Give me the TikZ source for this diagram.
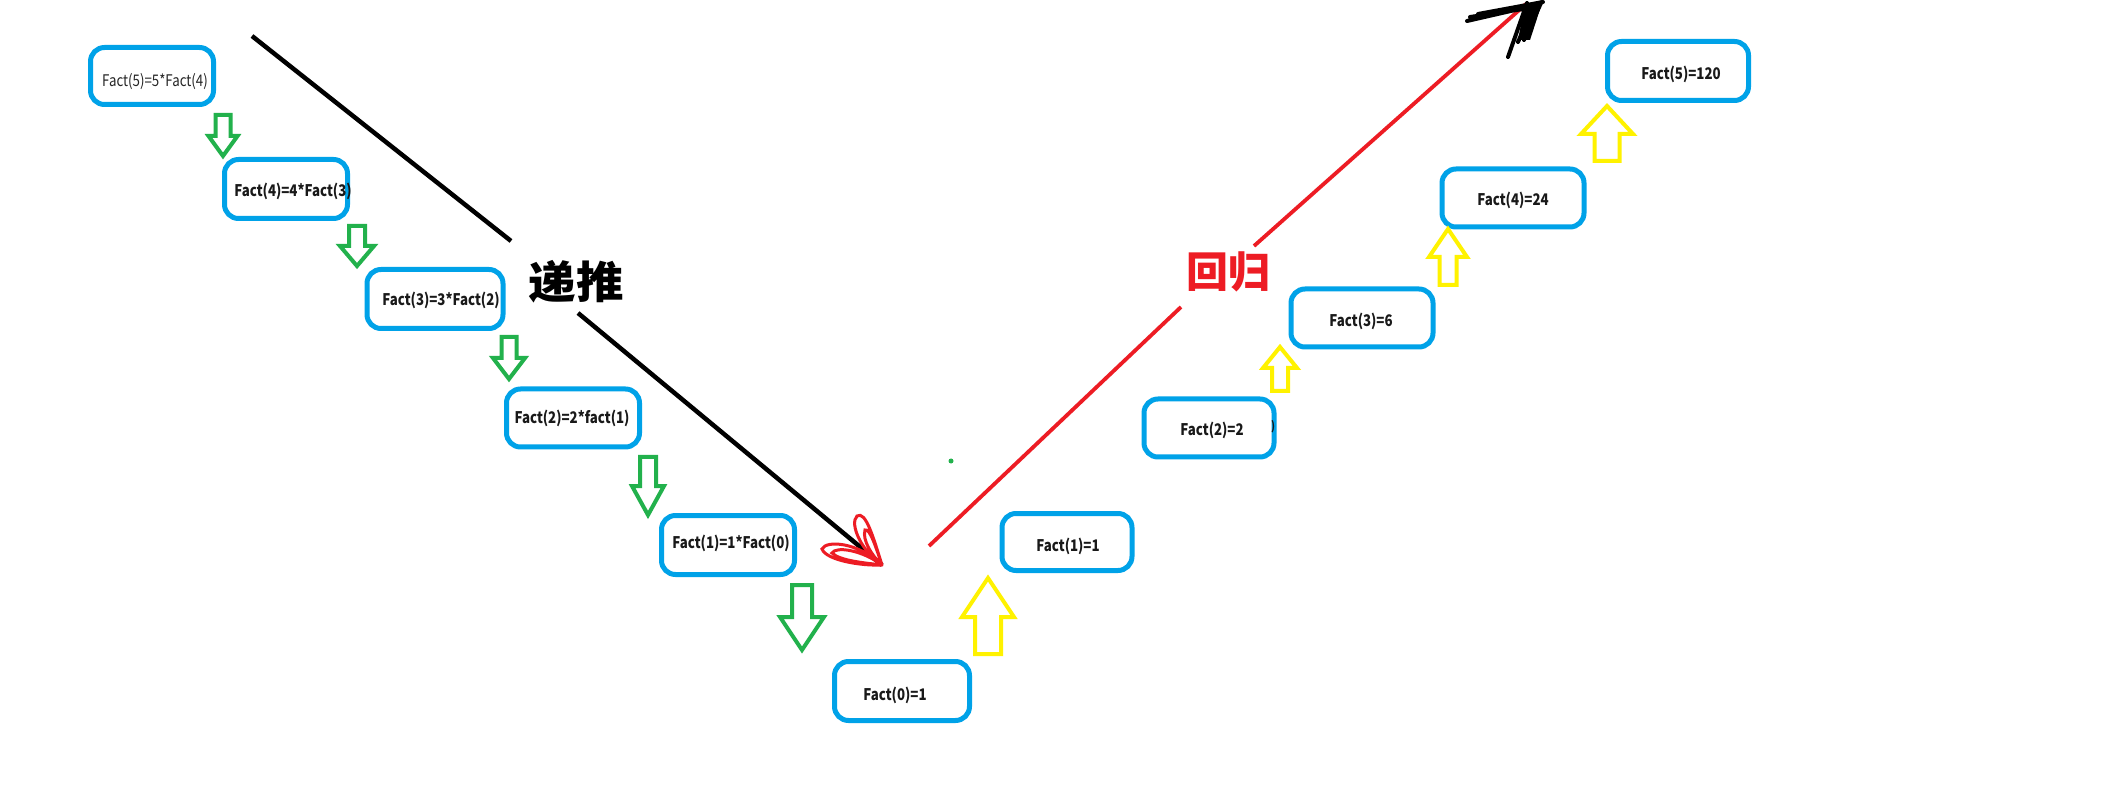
\documentclass[tikz,border=0pt]{standalone}
\usepackage{fontspec}
\setmainfont{Noto Sans CJK SC}
\usetikzlibrary{calc}
\definecolor{pblue}{HTML}{00A2E8}
\definecolor{pgreen}{HTML}{22B14C}
\definecolor{pyellow}{HTML}{FFF200}
\definecolor{pred}{HTML}{ED1C24}
% name, cx, top, base, tip, shaft half width, head half width
\newcommand\garrowdown[7]{%
  \draw[greenarrow] ({#2-#6},#3) -- ({#2+#6},#3) -- ({#2+#6},#4) -- ({#2+#7},#4) -- (#2,#5) -- ({#2-#7},#4) -- ({#2-#6},#4) -- cycle;
  \coordinate (#1) at (#2,#5);}
% name, cx, bottom, base, tip, shaft half width, head half width
\newcommand\yarrowup[7]{%
  \draw[yellowarrow] ({#2-#6},#3) -- ({#2+#6},#3) -- ({#2+#6},#4) -- ({#2+#7},#4) -- (#2,#5) -- ({#2-#7},#4) -- ({#2-#6},#4) -- cycle;
  \coordinate (#1) at (#2,#5);}
\begin{document}
\begin{tikzpicture}[x=1pt,y=-1pt,
  factbox/.style={draw=pblue, line width=5pt, rounded corners=14pt, inner sep=0pt},
  txtb/.style={font=\fontsize{16}{16}\selectfont\bfseries, inner sep=0pt, text=black!90, xscale=0.83},
  txtr/.style={font=\fontsize{16}{16}\selectfont, inner sep=0pt, text=black!85, xscale=0.83},
  greenarrow/.style={draw=pgreen, line width=4pt, line join=miter},
  yellowarrow/.style={draw=pyellow, line width=4pt, line join=miter},
  blackline/.style={draw=black, line width=4.5pt},
  redline/.style={draw=pred, line width=3.8pt},
  cjklabel/.style={font=\fontsize{44}{44}\selectfont\bfseries, inner sep=0pt}]
\fill[white] (0,0) rectangle (2105,791);
\useasboundingbox (0,0) rectangle (2105,791);

% boxes
\node[factbox, minimum width=123, minimum height=57] (b1) at (152,76) {};
\node[factbox, minimum width=123, minimum height=59] (b2) at (286,189) {};
\node[factbox, minimum width=136, minimum height=59] (b3) at (435,299) {};
\node[factbox, minimum width=133, minimum height=58] (b4) at (573,418) {};
\node[factbox, minimum width=133, minimum height=59] (b5) at (728,545) {};
\node[factbox, minimum width=135, minimum height=59] (b6) at (902,691) {};
\node[factbox, minimum width=130, minimum height=57] (b7) at (1067,542) {};
\node[factbox, minimum width=130, minimum height=58] (b8) at (1209,428) {};
\node[factbox, minimum width=142, minimum height=58] (b9) at (1362,318) {};
\node[factbox, minimum width=142, minimum height=58] (b10) at (1513,198) {};
\node[factbox, minimum width=141, minimum height=59] (b11) at (1678,71) {};

% texts
\node[txtr] (t1) at (155,82) {Fact(5)=5*Fact(4)};
\node[txtb] (t2) at (293,191) {Fact(4)=4*Fact(3)};
\node[txtb] (t3) at (441,300) {Fact(3)=3*Fact(2)};
\node[txtb] (t4) at (572,418) {Fact(2)=2*fact(1)};
\node[txtb] (t5) at (731,543) {Fact(1)=1*Fact(0)};
\node[txtb] (t6) at (895,695) {Fact(0)=1};
\node[txtb] (t7) at (1068,546) {Fact(1)=1};
\node[txtb] (t8) at (1212,430) {Fact(2)=2};
\node[txtb, font=\fontsize{12}{12}\selectfont\bfseries] (p8) at (1273,427) {)};
\node[txtb] (t9) at (1361,321) {Fact(3)=6};
\node[txtb] (t10) at (1513,200) {Fact(4)=24};
\node[txtb] (t11) at (1681,74) {Fact(5)=120};

% green down arrows
\garrowdown{g1}{223}{115}{136}{156}{7.5}{14.5}
\garrowdown{g2}{357}{226}{246}{266}{8}{17}
\garrowdown{g3}{509}{337}{358}{379}{7.5}{16}
\garrowdown{g4}{648}{457}{486}{515}{8}{16}
\garrowdown{g5}{802}{585}{617}{650}{10}{22}

% yellow up arrows
\yarrowup{y1}{988}{654}{617}{578}{13}{26}
\yarrowup{y2}{1280}{391}{368}{347}{8}{17}
\yarrowup{y3}{1448}{285}{257}{229}{8.5}{19}
\yarrowup{y4}{1607}{161}{134}{106}{12.5}{26}

% labels
\node[cjklabel, xscale=1.08] (dt) at (576,282) {递推};
\node[cjklabel, text=pred, font=\fontsize{42}{42}\selectfont\bfseries] (hg) at (1228,272) {回归};

% black lines (递推)
\coordinate (l1a) at (252,36);
\coordinate (l1b) at (511,241);
\coordinate (l2a) at (578,313);
\coordinate (l2b) at (882,565);
\draw[blackline] (l1a) -- (l1b);
\draw[blackline] (l2a) -- (l2b);
% red scribbled head
\draw[pred, line width=3pt, line cap=round]
  (l2b) .. controls (858,542) and (826,540) .. (822,549) .. controls (826,560) and (860,566) .. (l2b)
  (l2b) .. controls (874,540) and (866,510) .. (857,516) .. controls (849,524) and (862,552) .. (l2b)
  (l2b) .. controls (862,550) and (836,546) .. (832,553) .. controls (840,561) and (866,563) .. (l2b)
  (l2b) .. controls (876,548) and (870,528) .. (865,530) .. controls (862,540) and (872,556) .. (l2b);

% red lines (回归)
\coordinate (r1a) at (929,546);
\coordinate (r1b) at (1181,307);
\coordinate (r2a) at (1254,246);
\coordinate (r2b) at (1526,4);
\draw[redline] (r1a) -- (r1b);
\draw[redline] (r2a) -- (r2b);
% black scribbled head
\fill[black] (1472,17) -- (1543,0) -- (1530,40) -- (1518,40) -- (1524,9) -- cycle;
\draw[black, line width=4pt, line cap=round]
  (1467,21) -- (1537,5)
  (1478,14) -- (1543,2)
  (1470,17) -- (1530,8)
  (1527,3) -- (1508,57)
  (1535,4) -- (1518,42)
  (1541,3) -- (1524,40);

% stray green dot
\fill[pgreen] (951,461) circle (2.5);
\end{tikzpicture}
\end{document}
